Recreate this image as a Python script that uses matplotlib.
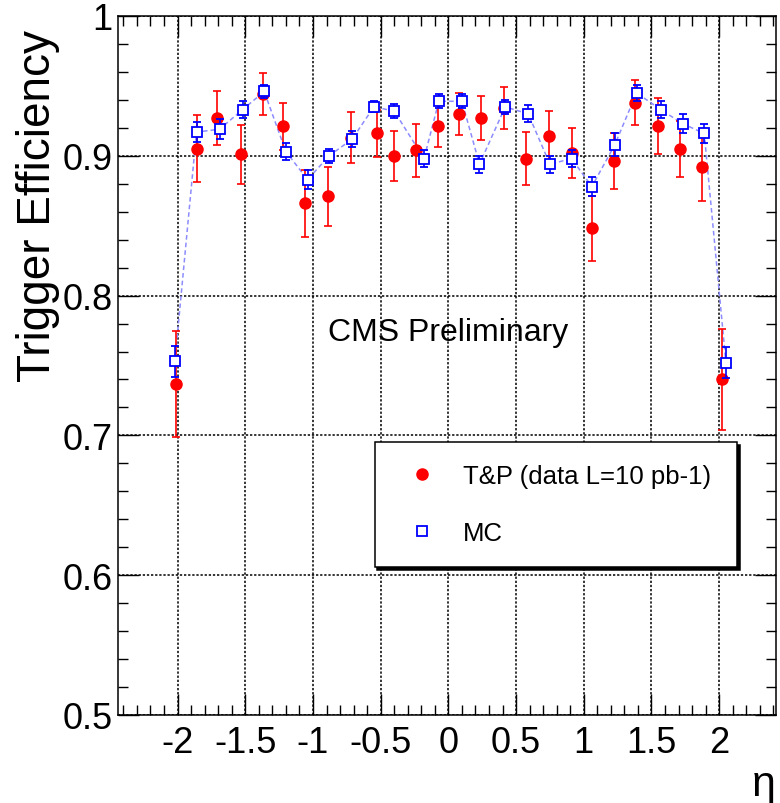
import matplotlib
matplotlib.use('Agg')
import matplotlib.pyplot as plt
from matplotlib.lines import Line2D
from matplotlib.ticker import MultipleLocator, FuncFormatter
from matplotlib import rcParams

rcParams['font.family'] = ['Liberation Sans', 'DejaVu Sans']
rcParams['axes.unicode_minus'] = False

# T&P (data) efficiency vs eta
eta_tp = [-2.01, -1.86, -1.71, -1.53, -1.37, -1.22, -1.06, -0.89, -0.72, -0.53, -0.40, -0.24, -0.08,
          0.08, 0.24, 0.41, 0.57, 0.74, 0.91, 1.06, 1.22, 1.38, 1.55, 1.71, 1.87, 2.02]
eff_tp = [0.737, 0.905, 0.927, 0.901, 0.944, 0.921, 0.866, 0.871, 0.913, 0.916, 0.900, 0.904, 0.921,
          0.930, 0.927, 0.934, 0.898, 0.914, 0.902, 0.848, 0.896, 0.938, 0.921, 0.905, 0.892, 0.740]
err_tp = [0.038, 0.024, 0.019, 0.021, 0.015, 0.017, 0.024, 0.021, 0.018, 0.017, 0.018, 0.019, 0.015,
          0.015, 0.016, 0.015, 0.019, 0.018, 0.018, 0.023, 0.020, 0.016, 0.020, 0.020, 0.024, 0.036]

# MC efficiency vs eta
eta_mc = [-2.02, -1.86, -1.69, -1.52, -1.36, -1.20, -1.04, -0.88, -0.71, -0.55, -0.40, -0.18, -0.07,
          0.10, 0.23, 0.42, 0.59, 0.75, 0.91, 1.06, 1.23, 1.39, 1.57, 1.73, 1.89, 2.05]
eff_mc = [0.753, 0.917, 0.919, 0.933, 0.946, 0.903, 0.883, 0.900, 0.912, 0.935, 0.932, 0.898, 0.939,
          0.939, 0.894, 0.935, 0.930, 0.894, 0.898, 0.878, 0.908, 0.945, 0.933, 0.923, 0.916, 0.752]
err_mc = [0.011, 0.007, 0.007, 0.006, 0.005, 0.006, 0.007, 0.005, 0.006, 0.004, 0.005, 0.006, 0.005,
          0.005, 0.006, 0.005, 0.006, 0.006, 0.006, 0.007, 0.008, 0.006, 0.006, 0.007, 0.007, 0.011]

fig = plt.figure(figsize=(7.8, 8.04), dpi=100)
ax = fig.add_axes([118 / 780, 1 - 716 / 804, 658 / 780, 699 / 804])

# MC dashed connecting line
ax.plot(eta_mc, eff_mc, '--', color='#8c8cff', lw=1.1, dashes=(3, 2), zorder=2)

# data points
ax.errorbar(eta_tp, eff_tp, yerr=err_tp, fmt='o', color='#ff0000', ms=8, elinewidth=1.2,
            capsize=3, capthick=1.2, zorder=3)
ax.errorbar(eta_mc, eff_mc, yerr=err_mc, fmt='s', color='#0000ff', mfc='white', mec='#0000ff',
            mew=1.3, ms=7.5, elinewidth=1.2, capsize=2.6, capthick=1.2, zorder=4)

ax.set_xlim(-2.44, 2.42)
ax.set_ylim(0.5, 1.0)

ax.xaxis.set_major_locator(MultipleLocator(0.5))
ax.xaxis.set_minor_locator(MultipleLocator(0.1))
ax.yaxis.set_major_locator(MultipleLocator(0.1))
ax.yaxis.set_minor_locator(MultipleLocator(0.02))
fmt = FuncFormatter(lambda v, p: '%g' % round(v, 2))
ax.xaxis.set_major_formatter(fmt)
ax.yaxis.set_major_formatter(fmt)

ax.tick_params(which='both', direction='in', top=True, right=True, width=1.0)
ax.tick_params(which='major', length=15, labelsize=26)
ax.tick_params(which='minor', length=7.5)
ax.tick_params(axis='x', which='major', pad=7)
ax.tick_params(axis='y', which='major', pad=4)
for s in ax.spines.values():
    s.set_linewidth(1.1)

ax.grid(True, which='major', color='black', linestyle=(0, (1.5, 1.2)), linewidth=1.1)
ax.set_axisbelow(True)

ax.text(0.319, 0.548, 'CMS Preliminary', transform=ax.transAxes, fontsize=23,
        ha='left', va='center')

handles = [Line2D([], [], marker='o', ls='none', color='#ff0000', ms=8),
           Line2D([], [], marker='s', ls='none', mfc='white', mec='#0000ff', mew=1.3, ms=7.5)]
leg = ax.legend(handles, ['T&P (data L=10 pb-1)', 'MC'], loc='lower left',
                bbox_to_anchor=(0.39, 0.212, 0.551, 0.18), mode='expand', fontsize=18.5,
                borderaxespad=0, borderpad=0.85, labelspacing=1.3, handlelength=2.0,
                handletextpad=0.6, fancybox=False, framealpha=1,
                shadow={'color': 'black', 'alpha': 1.0}, edgecolor='black')
leg.get_frame().set_linewidth(1.1)

fig.text(38 / 780, 1 - 30 / 804, 'Trigger Efficiency', rotation=90, ha='center', va='top',
         fontsize=33)
fig.text(776 / 780, 1 - 785 / 804, 'η', ha='right', va='center', fontsize=31)

fig.savefig('out.png', dpi=100)
